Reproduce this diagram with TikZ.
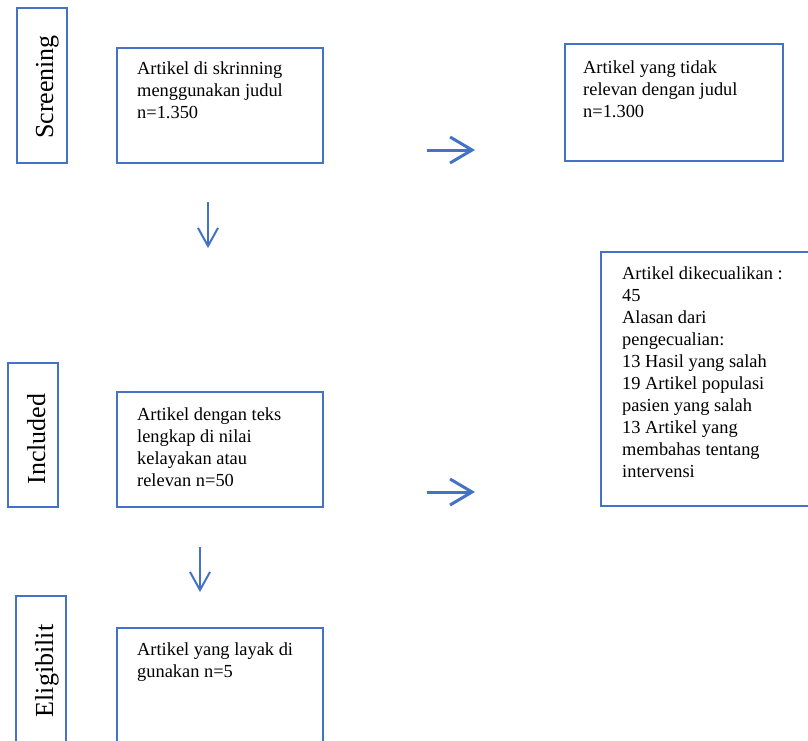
\documentclass[tikz,border=0pt]{standalone}
\usepackage{fontspec}
\setmainfont{Liberation Serif}
\usetikzlibrary{arrows.meta}
\definecolor{wblue}{HTML}{4472C4}
\begin{document}
\begin{tikzpicture}[x=1pt,y=-1pt,
  box/.style={draw=wblue, line width=2pt, rectangle, inner sep=0pt, anchor=north west},
  txt/.style={anchor=north west, inner sep=0pt, align=left, font=\fontsize{18.4}{22}\selectfont},
  lbl/.style={anchor=base, rotate=90, inner sep=0pt, font=\fontsize{26}{30}\selectfont},
  harr/.style={draw=wblue, line width=3pt, -{Straight Barb[length=22pt, width=26pt, line width=3pt]}},
  varr/.style={draw=wblue, line width=2pt, -{Straight Barb[length=18pt, width=20pt, line width=2pt]}}
]
\useasboundingbox (0,0) rectangle (808,740);
\clip (0,0) rectangle (808,740);
% stage labels
\node[box, minimum width=50pt, minimum height=155pt] (ls) at (16,7) {};
\node[lbl] (lst) at (53,87) {Screening};
\node[box, minimum width=50pt, minimum height=144pt] (li) at (7,362) {};
\node[lbl] (lit) at (45,439) {Included};
\node[box, minimum width=50pt, minimum height=170pt] (le) at (15,595) {};
\node[lbl] (let) at (53,671) {Eligibilit};
% boxes
\node[box, minimum width=206pt, minimum height=115pt] (b1) at (116,47) {};
\node[txt] (t1) at (137,62) {Artikel di skrinning\\menggunakan judul\\n=1.350};
\node[box, minimum width=218pt, minimum height=117pt] (b2) at (564,43) {};
\node[txt] (t2) at (583,61) {Artikel yang tidak\\relevan dengan judul\\n=1.300};
\node[box, minimum width=230pt, minimum height=254pt] (b3) at (600,251) {};
\node[txt] (t3) at (622,267) {Artikel dikecualikan :\\45\\Alasan dari\\pengecualian:\\13 Hasil yang salah\\19 Artikel populasi\\pasien yang salah\\13 Artikel yang\\membahas tentang\\intervensi};
\node[box, minimum width=206pt, minimum height=115pt] (b4) at (116,391) {};
\node[txt] (t4) at (137,408) {Artikel dengan teks\\lengkap di nilai\\kelayakan atau\\relevan n=50};
\node[box, minimum width=206pt, minimum height=140pt] (b5) at (116,627) {};
\node[txt] (t5) at (137,643) {Artikel yang layak di\\gunakan n=5};
% arrows
\coordinate (h1s) at (427,150); \coordinate (h1e) at (475,150);
\coordinate (h2s) at (427,492); \coordinate (h2e) at (475,492);
\coordinate (v1s) at (208,202); \coordinate (v1e) at (208,248);
\coordinate (v2s) at (200,547); \coordinate (v2e) at (200,592);
\draw[harr] (h1s) -- (h1e);
\draw[harr] (h2s) -- (h2e);
\draw[varr] (v1s) -- (v1e);
\draw[varr] (v2s) -- (v2e);
\end{tikzpicture}
\end{document}
